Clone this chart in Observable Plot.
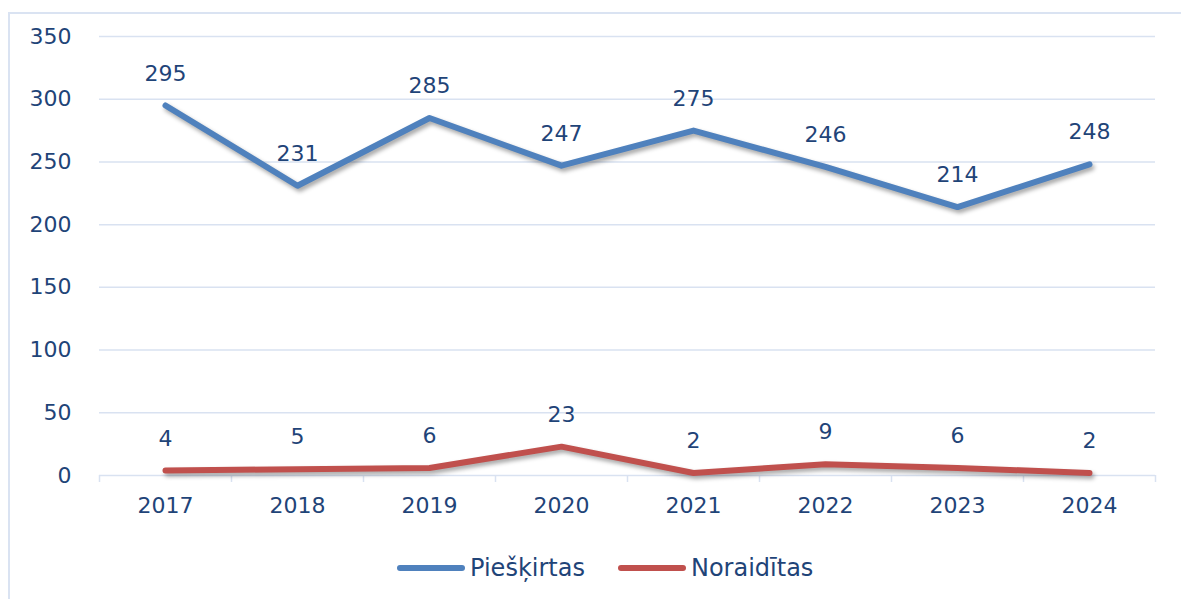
<!DOCTYPE html>
<html>
<head>
<meta charset="utf-8">
<script src="https://cdn.jsdelivr.net/npm/d3@7"></script>
<script src="https://cdn.jsdelivr.net/npm/@observablehq/plot@0.6"></script>
<style>
  html, body { margin: 0; padding: 0; background: #fff; overflow: hidden; }
  body { width: 1181px; height: 599px; position: relative; font-family: "DejaVu Sans", sans-serif; }
  #frame { position: absolute; left: 8px; top: 12px; width: 1200px; height: 620px; border: 2px solid #dae3f2; box-sizing: border-box; }
  #chart { position: absolute; left: 0; top: 0; }
  #chart svg g[aria-label="line"] { filter: drop-shadow(2px 3px 2px rgba(0,0,0,0.35)); }
  #legend { position: absolute; left: 397px; top: 554px; height: 28px; display: flex; align-items: center; font-size: 24px; line-height: 28px; color: #1f4478; }
  .sw { display: inline-block; width: 68px; height: 6px; border-radius: 3px; margin-right: 5px; }
  .item { display: flex; align-items: center; margin-right: 33px; }
</style>
</head>
<body>
<div id="frame"></div>
<div id="chart"></div>
<div id="legend"></div>
<script>
const years = [2017, 2018, 2019, 2020, 2021, 2022, 2023, 2024];
const pieskirtas = [295, 231, 285, 247, 275, 246, 214, 248];
const noraiditas = [4, 5, 6, 23, 2, 9, 6, 2];
const seriesNames = ["Piešķirtas", "Noraidītas"];
const seriesColors = ["#4f81bd", "#c0504d"];
const yTicks = [0, 50, 100, 150, 200, 250, 300, 350];

const data = [
  ...years.map((y, i) => ({year: y, value: pieskirtas[i], series: seriesNames[0]})),
  ...years.map((y, i) => ({year: y, value: noraiditas[i], series: seriesNames[1]}))
];
const boundaries = [years[0] - 0.5, ...years.map(y => y + 0.5)];
const textColor = "#1f4478";
const gridColor = "#d9e2f1";

const chart = Plot.plot({
  width: 1181,
  height: 540,
  marginLeft: 99,
  marginRight: 26,
  marginTop: 36,
  marginBottom: 65,
  style: {fontFamily: "DejaVu Sans, sans-serif", fontSize: "22px", color: textColor, background: "transparent"},
  x: {domain: [years[0] - 0.5, years[years.length - 1] + 0.5], axis: null},
  y: {domain: [0, 350], axis: null},
  color: {domain: seriesNames, range: seriesColors},
  marks: [
    Plot.ruleY(yTicks, {stroke: gridColor, strokeWidth: 1.5}),
    Plot.axisY({ticks: yTicks, tickSize: 0, tickPadding: 28, fill: textColor, fontSize: 22, label: null}),
    Plot.axisX({ticks: boundaries, tickSize: 7, stroke: gridColor, strokeWidth: 1.5, tickFormat: () => "", label: null}),
    Plot.axisX({ticks: years, tickSize: 0, tickPadding: 22, tickFormat: d => String(d), fill: textColor, fontSize: 22, label: null}),
    Plot.line(data, {x: "year", y: "value", z: "series", stroke: "series", strokeWidth: 6, strokeLinecap: "round", strokeLinejoin: "round"}),
    Plot.text(data, {x: "year", y: "value", text: d => String(d.value), dy: -32, fill: textColor, fontSize: 22})
  ]
});
document.getElementById("chart").appendChild(chart);

const legend = document.getElementById("legend");
seriesNames.forEach((n, i) => {
  const it = document.createElement("div");
  it.className = "item";
  const sw = document.createElement("span");
  sw.className = "sw";
  sw.style.background = seriesColors[i];
  it.appendChild(sw);
  const t = document.createElement("span");
  t.textContent = n;
  it.appendChild(t);
  legend.appendChild(it);
});
</script>
</body>
</html>
